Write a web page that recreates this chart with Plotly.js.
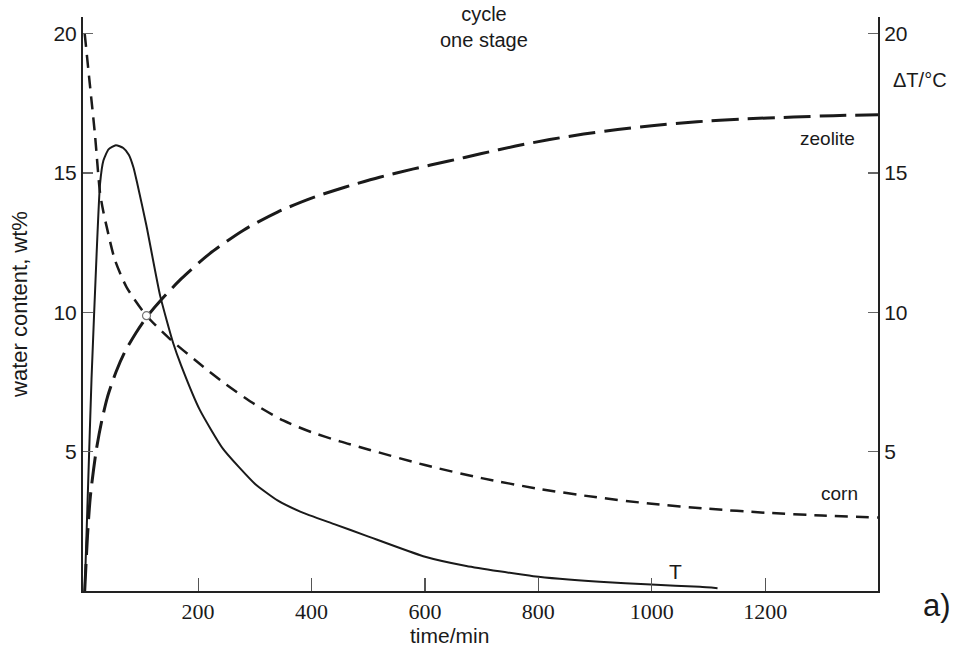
<!DOCTYPE html>
<html>
<head>
<meta charset="utf-8">
<script src="https://cdn.plot.ly/plotly-3.0.1.min.js"></script>
<style>html,body{margin:0;padding:0;background:#fff}#chart{width:959px;height:657px}</style>
</head>
<body>
<div id="chart"></div>
<script>
// time (min) and values
const tTime = [0, 6, 12, 21, 27, 33, 42, 55, 68, 78, 86, 93, 109, 133, 156, 170, 203, 244, 300, 340, 380, 440, 497, 597, 673, 791, 908, 999, 1085, 1116];
const tValues = [0, 3.8, 7.6, 12.1, 14.6, 15.45, 15.85, 16.0, 15.9, 15.65, 15.2, 14.6, 13.1, 10.6, 8.9, 8.1, 6.5, 5.1, 3.85, 3.25, 2.85, 2.4, 1.98, 1.25, 0.9, 0.53, 0.33, 0.23, 0.15, 0.1];

const cornTime = [0, 9, 18, 27, 33, 39, 53, 74, 109, 150, 200, 250, 300, 350, 400, 450, 500, 600, 700, 800, 900, 1000, 1100, 1200, 1300, 1399];
const cornValues = [20, 18.2, 16.4, 14.3, 13.6, 13.05, 11.9, 10.9, 9.88, 9.05, 8.2, 7.4, 6.7, 6.12, 5.7, 5.37, 5.08, 4.52, 4.05, 3.67, 3.37, 3.13, 2.95, 2.81, 2.71, 2.64];

const zeoTime = [0, 5, 10, 20, 30, 40, 55, 70, 90, 110, 135, 170, 220, 280, 340, 400, 460, 520, 580, 640, 700, 760, 820, 880, 940, 1000, 1080, 1160, 1250, 1320, 1399];
const zeoValues = [0, 2.0, 3.4, 5.0, 6.1, 6.95, 7.85, 8.55, 9.25, 9.85, 10.45, 11.2, 12.1, 12.95, 13.6, 14.1, 14.5, 14.85, 15.15, 15.42, 15.7, 15.97, 16.2, 16.4, 16.56, 16.7, 16.84, 16.94, 17.01, 17.06, 17.09];

const crossTime = [109];
const crossValue = [9.88];

const xTicks = [200, 400, 600, 800, 1000, 1200];
const yTicks = [5, 10, 15, 20];

const sans = "Liberation Sans, Arial, sans-serif";
const serif = "Liberation Serif, Times New Roman, serif";
const ink = "#1a1a1a";

const traces = [
  {x: cornTime, y: cornValues, mode: "lines", name: "corn",
   line: {color: ink, width: 2.5, dash: "13px,8px", shape: "spline", smoothing: 0.7}},
  {x: zeoTime, y: zeoValues, mode: "lines", name: "zeolite",
   line: {color: ink, width: 3, dash: "27px,9px", shape: "spline", smoothing: 0.7}},
  {x: tTime, y: tValues, mode: "lines", name: "T", yaxis: "y2",
   line: {color: ink, width: 2, shape: "spline", smoothing: 0.5}},
  {x: crossTime, y: crossValue, mode: "markers", name: "crossing",
   marker: {symbol: "circle", size: 8, color: "#fff", line: {color: "#777", width: 1.2}}}
];

function ann(text, x, y, size, extra) {
  return Object.assign({text: text, x: x, y: y, xref: "paper", yref: "paper", showarrow: false,
    xanchor: "center", yanchor: "middle", align: "center",
    font: {family: sans, size: size, color: ink}}, extra || {});
}

const annots = [
  ann("cycle<br>one stage", 0.5045, 0.9826, 20),
  ann("ΔT/°C", 1.053, 0.890, 20),
  ann("zeolite", 0.937, 0.789, 19),
  ann("corn", 0.952, 0.169, 19),
  ann("T", 0.745, 0.0348, 21),
  ann("a)", 1.074, -0.0244, 31),
  ann("time/min", 0.4616, -0.0775, 21)
];

const layout = {
  width: 959, height: 657,
  margin: {l: 83, r: 81, t: 17, b: 66},
  paper_bgcolor: "#fff", plot_bgcolor: "#fff",
  showlegend: false,
  xaxis: {
    range: [-3, 1399], showgrid: false, zeroline: false,
    showline: true, linecolor: "#222", linewidth: 2,
    ticks: "inside", ticklen: 13, tickwidth: 1.2, tickcolor: "#555",
    tickvals: xTicks, ticktext: xTicks.map(String),
    tickfont: {family: serif, size: 22, color: ink},
    ticklabelstandoff: 0
  },
  yaxis: {
    range: [0, 20.6], showgrid: false, zeroline: false,
    showline: true, linecolor: "#222", linewidth: 2,
    ticks: "inside", ticklen: 10, tickwidth: 1.2, tickcolor: "#666",
    tickvals: yTicks, ticktext: yTicks.map(String),
    tickfont: {family: sans, size: 21, color: ink},
    title: {text: "water content, wt%", font: {family: sans, size: 22, color: ink}, standoff: 20}
  },
  yaxis2: {
    overlaying: "y", side: "right",
    range: [0, 20.6], showgrid: false, zeroline: false,
    showline: true, linecolor: "#222", linewidth: 2,
    ticks: "inside", ticklen: 10, tickwidth: 1.2, tickcolor: "#666",
    tickvals: yTicks, ticktext: yTicks.map(String),
    tickfont: {family: sans, size: 21, color: ink}
  },
  annotations: annots
};

Plotly.newPlot("chart", traces, layout, {staticPlot: true, displayModeBar: false});
</script>
</body>
</html>
